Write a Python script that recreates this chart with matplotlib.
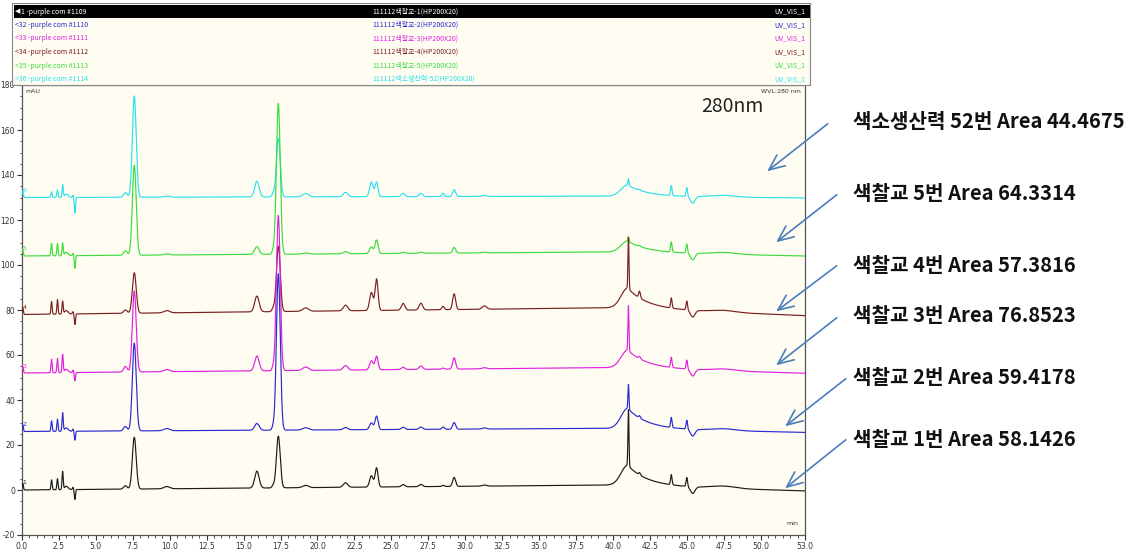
import numpy as np
import matplotlib
matplotlib.use("Agg")
import matplotlib.pyplot as plt
from matplotlib.patches import FancyArrowPatch, Rectangle

plt.rcParams["axes.unicode_minus"] = False

# ---------------- data ----------------
trace_names = ["1 -purple com #1109", "<32 -purple com #1110", "<33 -purple com #1111",
               "<34 -purple com #1112", "<35 -purple com #1113", "<36 -purple com #1114"]
sample_names = ["111112색찰교-1(HP200X20)", "111112색찰교-2(HP200X20)", "111112색찰교-3(HP200X20)",
                "111112색찰교-4(HP200X20)", "111112색찰교-5(HP200X20)", "111112색소생산력-52(HP200X20)"]
channel = "UV_VIS_1"
trace_colors = ["#1a1a1a", "#2a2ad0", "#e020e0", "#7a1f1f", "#3cdc3c", "#2ee0f0"]

# baseline (mAU) at start, just before 40 min hump, and at 53 min
base_start = [0.0, 26.0, 52.0, 78.0, 104.0, 130.0]
base_mid = [2.2, 27.4, 54.4, 81.0, 105.8, 130.6]
base_end = [-0.4, 25.6, 51.9, 77.5, 104.0, 129.8]

# peak table: retention time (min), width (sigma, min)
peak_rt = [0.05, 2.0, 2.4, 2.75, 3.0, 3.45, 3.58, 7.0, 7.6, 9.8, 15.9, 17.0, 17.35,
           19.2, 21.9, 23.65, 24.0, 25.8, 27.0, 28.5, 29.25, 31.3, 41.05, 41.8,
           43.95, 45.0, 45.4, 47.5]
peak_sig = [0.04, 0.04, 0.04, 0.04, 0.12, 0.04, 0.04, 0.12, 0.13, 0.2, 0.15, 0.08, 0.13,
            0.2, 0.15, 0.12, 0.1, 0.12, 0.12, 0.08, 0.1, 0.15, 0.035, 0.06,
            0.05, 0.05, 0.15, 0.8]
# heights per trace (black, blue, magenta, brown, green, cyan)
peak_h = [
    [3, 4.4, 4.9, 8.0, 1.5, 1.0, -4.4, 1.5, 23, 1.0, 7.5, 1.0, 23, 1.0, 2.0, 5.0, 8.5, 1.0, 1.0, 0.5, 4.0, 0.5, 25, 1.0, 4.5, 4.0, -3.0, 1.0],
    [3, 4.7, 5.5, 8.1, 1.5, 1.0, -4.0, 2.0, 39, 1.0, 3.0, 1.5, 69.5, 1.0, 1.0, 3.0, 6.0, 1.0, 1.0, 1.0, 3.0, 0.5, 11, 1.0, 4.5, 4.0, -3.0, 0.8],
    [3, 6.0, 6.3, 8.0, 1.5, 1.0, -3.7, 2.5, 36, 1.0, 6.6, 1.5, 69, 1.5, 2.0, 4.0, 6.0, 1.0, 1.5, 0.5, 5.0, 0.5, 20, 1.0, 4.5, 4.0, -3.0, 0.8],
    [3, 5.6, 6.5, 5.6, 1.5, 1.0, -4.7, 1.5, 18, 1.0, 7.0, 1.5, 29, 1.5, 2.5, 8.0, 14.0, 3.0, 3.0, 1.5, 7.0, 1.5, 23, 3.0, 4.5, 4.0, -3.0, 0.8],
    [3, 5.5, 5.5, 5.5, 1.5, 1.0, -5.6, 2.0, 40, 0.5, 3.5, 1.5, 67, 0.5, 1.0, 3.0, 6.0, 0.5, 0.5, 0.0, 2.5, 0.3, 2.0, 0.5, 4.5, 4.0, -3.0, 0.8],
    [3, 2.5, 3.3, 5.5, 1.5, 1.0, -7.0, 2.0, 45, 0.5, 7.0, 1.5, 26, 1.5, 2.0, 6.5, 6.5, 1.5, 1.5, 1.5, 3.0, 0.5, 3.0, 0.5, 4.5, 4.0, -3.0, 0.8],
]
# broad hump around 41 min
hump_rt = 41.0
hump_h = [9.0, 9.0, 8.0, 9.0, 5.0, 5.0]

x_major = [0.0, 2.5, 5.0, 7.5, 10.0, 12.5, 15.0, 17.5, 20.0, 22.5, 25.0, 27.5, 30.0,
           32.5, 35.0, 37.5, 40.0, 42.5, 45.0, 47.5, 50.0, 53.0]
y_major = [-20, 0, 20, 40, 60, 80, 100, 120, 140, 160, 180]

annot_texts = ["색소생산력 52번 Area 44.4675", "색찰교 5번 Area 64.3314", "색찰교 4번 Area 57.3816",
               "색찰교 3번 Area 76.8523", "색찰교 2번 Area 59.4178", "색찰교 1번 Area 58.1426"]

# ---------------- build traces ----------------
t = np.linspace(0, 53, 10601)


def build(i):
    y = np.where(t < 40, base_start[i] + (base_mid[i] - base_start[i]) * t / 40.0,
                 base_mid[i] + (base_end[i] - base_mid[i]) * (t - 40) / 13.0)
    for rt, s, h in zip(peak_rt, peak_sig, peak_h[i]):
        y = y + h * np.exp(-0.5 * ((t - rt) / s) ** 2)
    shape = np.where(t < hump_rt, np.exp(-0.5 * ((t - hump_rt) / 0.45) ** 2),
                     np.exp(-(t - hump_rt) / 1.3))
    return y + hump_h[i] * shape


W, H = 1145, 560
fig = plt.figure(figsize=(W / 100, H / 100), dpi=100)
fig.patch.set_facecolor("white")

cream = "#fffdf2"


def fx(px):
    return px / W


def fy(py):
    return 1 - py / H


ax = fig.add_axes([fx(22), fy(535), fx(805 - 22), (535 - 85) / H])
ax.set_facecolor(cream)
for i in range(5, -1, -1):
    ax.plot(t, build(i), color=trace_colors[i], lw=0.85, zorder=3)
    ax.text(0.05, base_start[i] + 2, str(i + 1), color=trace_colors[i], fontsize=4.5,
            ha="left", va="bottom")

ax.set_xlim(0, 53)
ax.set_ylim(-20, 180)
ax.set_xticks(x_major)
ax.set_xticklabels([f"{v:.1f}" for v in x_major])
ax.set_xticks(np.arange(0, 53.01, 0.5), minor=True)
ax.set_yticks(y_major)
ax.set_yticks(np.arange(-20, 181, 5), minor=True)
ax.tick_params(axis="both", which="major", length=3.5, width=0.8, labelsize=5.5,
               colors="#333333", pad=1.5)
ax.tick_params(axis="both", which="minor", length=1.8, width=0.6, colors="#333333")
for sp in ax.spines.values():
    sp.set_linewidth(0.9)
    sp.set_color("#555555")
ax.text(0.004, 0.992, "mAU", transform=ax.transAxes, fontsize=4.5, ha="left", va="top", color="#333333")
ax.text(0.995, 0.992, "WVL:280 nm", transform=ax.transAxes, fontsize=4.5, ha="right", va="top", color="#333333")
ax.text(0.992, 0.02, "min", transform=ax.transAxes, fontsize=4.5, ha="right", va="bottom", color="#333333")
ax.text(46.0, 170.5, "280nm", fontsize=14, ha="left", va="center", color="#222222",
        family=["Noto Sans CJK KR", "DejaVu Sans"])

# ---------------- header (overlay list) ----------------
hx = fig.add_axes([fx(12), fy(85), fx(810 - 12), (85 - 3) / H])
hx.set_xlim(12, 810)
hx.set_ylim(85, 3)
hx.set_facecolor(cream)
hx.set_xticks([])
hx.set_yticks([])
for sp in hx.spines.values():
    sp.set_linewidth(0.8)
    sp.set_color("#888888")
hx.add_patch(Rectangle((14, 5), 796, 13, facecolor="black", edgecolor="none"))
row_y = [11.5, 25, 38.5, 52, 65.5, 79]
fam = ["Noto Sans CJK KR", "DejaVu Sans"]
for i in range(6):
    c = "white" if i == 0 else trace_colors[i]
    name = trace_names[i]
    if i == 0:
        hx.text(15, row_y[i], "◀", color="white", fontsize=5, ha="left", va="center", family=["DejaVu Sans"])
        hx.text(21, row_y[i], name, color=c, fontsize=5, ha="left", va="center", family=fam)
    else:
        hx.text(15, row_y[i], name, color=c, fontsize=5, ha="left", va="center", family=fam)
    hx.text(372, row_y[i], sample_names[i], color=c, fontsize=5, ha="left", va="center", family=fam)
    hx.text(805, row_y[i], channel, color=c, fontsize=5, ha="right", va="center", family=fam)

# ---------------- annotations ----------------
text_y = [122, 193, 265, 316, 377, 440]
tails = [(830, 122), (839, 193), (839, 264), (839, 316), (848, 377), (848, 438)]
heads = [(765, 173), (774, 244), (774, 313), (774, 367), (783, 428), (783, 490)]
for k in range(6):
    fig.text(fx(853), fy(text_y[k]), annot_texts[k], fontsize=14.5, fontweight="bold",
             ha="left", va="center", color="#111111", family=["Noto Sans CJK KR", "DejaVu Sans"])
    arr = FancyArrowPatch((fx(tails[k][0]), fy(tails[k][1])), (fx(heads[k][0]), fy(heads[k][1])),
                          transform=fig.transFigure, arrowstyle="->,head_length=0.8,head_width=0.35",
                          mutation_scale=14, color="#4a7ebb", lw=1.2)
    fig.add_artist(arr)

fig.savefig("out.png", dpi=100)
